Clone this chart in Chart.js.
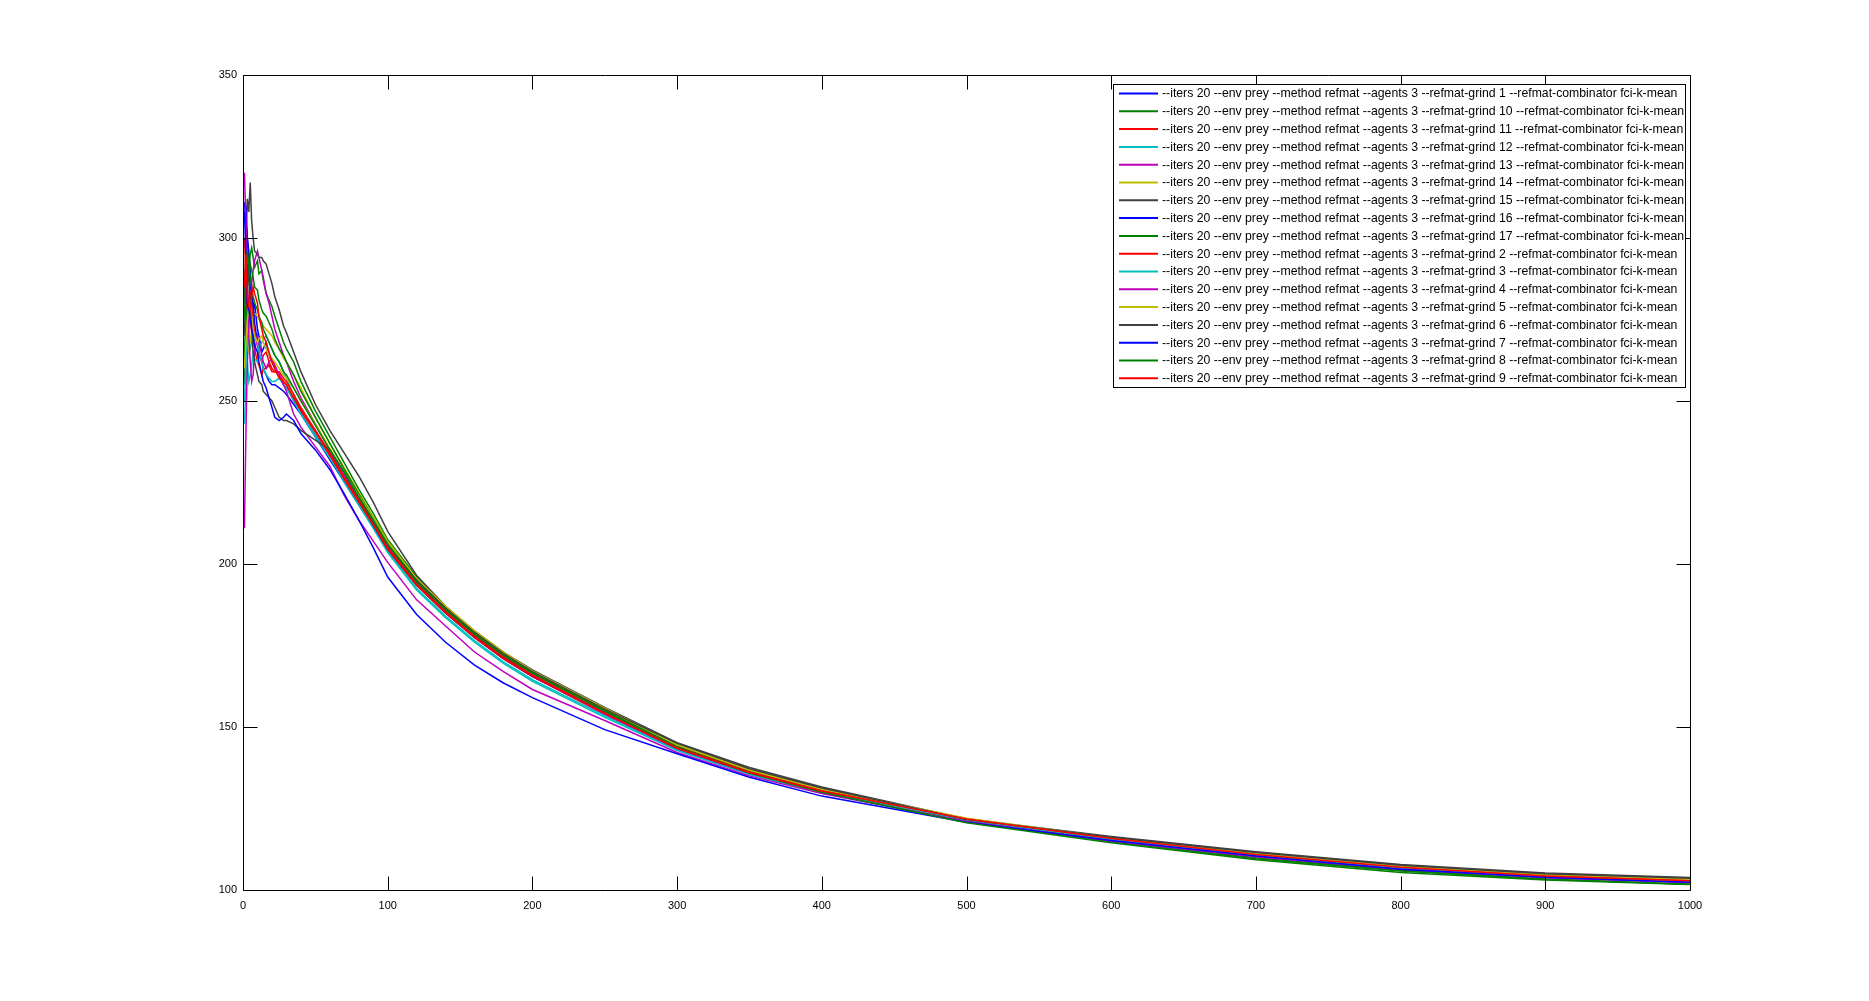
<!DOCTYPE html>
<html>
<head>
<meta charset="utf-8">
<title>refmat grind runs</title>
<script src="https://cdn.jsdelivr.net/npm/chart.js@4.4.1/dist/chart.umd.min.js"></script>
<style>
  html, body { margin: 0; padding: 0; background: #fff; }
  #wrap { width: 1869px; height: 1001px; }
</style>
</head>
<body>
<div id="wrap"><canvas id="chart" width="1869" height="1001"></canvas></div>
<script>
// x positions
const iterations = [1, 2, 3, 4, 5, 6, 7, 8, 10, 11, 13, 14, 16, 18, 20, 22, 25, 28, 30, 35,
    40, 50, 60, 70, 80, 90, 100, 120, 140, 160, 180, 200, 250, 300, 350, 400, 500, 600, 700, 800, 900, 1000];

const grind1  = [311, 305, 300, 296, 290, 283, 278, 280, 272, 270, 265, 266, 268, 264, 262, 260, 258, 255, 254, 251,
    247, 241, 234, 227, 220, 213, 205.5, 194, 185.5, 178, 171.5, 166, 154, 143.5, 136, 130.2, 121.5, 115.3, 110.3, 106.4, 103.9, 102.4];
const grind10 = [262, 280, 292, 290, 295, 297, 294, 291, 293, 289, 290, 287, 283, 281, 279, 276, 272, 268, 266, 262,
    256, 247, 239, 231, 223, 215.5, 207.5, 196, 187, 179, 172.5, 166.5, 155, 144.5, 136.8, 130.8, 121.4, 115, 109.9, 106, 103.4, 101.8];
const grind11 = [290, 280, 285, 279, 275, 271, 270, 266, 262, 261, 258, 260, 260, 261, 259, 259, 258, 256, 255, 250,
    247, 240, 233, 226, 219, 212, 204.5, 193.5, 185, 177.5, 171, 165.5, 154, 143.3, 135.8, 130.3, 121.6, 115.6, 110.7, 106.9, 104.1, 102.7];
const grind12 = [243, 255, 262, 256, 258, 261, 265, 263, 262, 266, 268, 269, 270, 268, 266, 264, 262, 259, 257, 252,
    248, 240, 232, 225, 218, 211, 204, 192.5, 184, 176.5, 170, 164.5, 153.5, 143, 135.6, 130, 121.3, 115.4, 110.5, 106.7, 104, 102.6];
const grind13 = [211, 240, 262, 272, 280, 286, 290, 293, 296, 294, 290, 288, 283, 280, 276, 272, 268, 264, 262, 256,
    251, 243, 235, 227, 220, 213, 205.5, 194, 185.5, 177.5, 171, 165.5, 154, 143.3, 135.7, 130, 121.2, 115.2, 110.3, 106.5, 103.9, 102.5];
const grind14 = [270, 280, 272, 266, 268, 272, 275, 277, 276, 275, 274, 273, 272, 271, 270, 268, 266, 263, 262, 258,
    254, 245, 237, 229.5, 222, 214.5, 207, 195.5, 186.5, 179, 172.5, 167, 155.5, 144.5, 136.5, 130.5, 120.8, 115.2, 110.6, 107, 104.5, 103.2];
const grind15 = [280, 300, 312, 308, 317, 305, 300, 296, 295, 294, 294, 293, 292, 289, 286, 282, 278, 273, 271, 265,
    259, 249, 241, 234, 227, 219, 210, 196.5, 187, 179.5, 173, 167.5, 156, 145.2, 137.6, 131.6, 121.8, 116.4, 111.7, 107.8, 105.2, 103.8];
const grind16 = [305, 310, 300, 292, 285, 283, 280, 274, 268, 265, 262, 260, 258, 256, 255, 255, 254, 253, 252, 249,
    246, 239, 232, 225.5, 218.5, 211.5, 204.5, 193.5, 185, 177.5, 171, 165.5, 154.5, 143.6, 136, 130.4, 121.7, 115.7, 110.6, 106.5, 103.9, 102.4];
const grind17 = [255, 270, 285, 289, 292, 290, 288, 285, 284, 281, 278, 277, 276, 274, 272, 269, 266, 264, 262, 258,
    253, 245, 237, 229, 221.5, 214, 206.5, 195, 186, 178.5, 172, 166.5, 155, 144, 136.3, 130.5, 121, 114.8, 109.6, 105.8, 103.3, 101.8];
const grind2  = [300, 290, 278, 281, 283, 279, 275, 271, 268, 264, 262, 264, 265, 262, 260, 259, 259, 257, 256, 252,
    248, 241, 234, 226.5, 219.5, 212.5, 205, 194, 185.5, 178, 171.5, 166, 154.5, 143.8, 136.2, 130.5, 121.9, 115.8, 110.8, 107.1, 104.4, 102.9];
const grind3  = [250, 262, 270, 268, 266, 268, 270, 269, 268, 265, 262, 260, 258, 257, 256, 256, 257, 255, 254, 250,
    246, 239, 232.5, 225.5, 218.5, 211, 203.5, 192, 183.5, 176, 169.5, 164, 153, 142.8, 135.4, 130, 121.5, 115.6, 110.6, 106.7, 104.1, 102.6];
const grind4  = [320, 305, 285, 270, 262, 256, 258, 265, 270, 268, 264, 262, 260, 262, 263, 261, 258, 255, 253, 246,
    242, 236, 230, 221, 213.5, 207, 200.5, 189, 181, 173, 167, 161.5, 152, 142.2, 135, 129.6, 121, 115, 110.2, 106.4, 103.8, 102.3];
const grind5  = [260, 268, 275, 278, 280, 276, 272, 270, 268, 269, 270, 268, 266, 264, 263, 262, 260, 258, 257, 254,
    250, 243, 235.5, 228, 221, 214, 206.5, 195.5, 187, 179.5, 173, 167.2, 155.8, 144.6, 136.8, 130.9, 122, 116, 111.1, 107.3, 104.7, 103.3];
const grind6  = [270, 285, 292, 287, 280, 272, 265, 262, 258, 256, 255, 253, 252, 251, 250, 248, 245, 244, 244, 243,
    241, 238, 235, 228, 220.5, 213, 206, 195, 186.5, 179, 172.5, 167, 155.5, 145, 137.2, 131.3, 121.6, 116.2, 111.5, 107.6, 105, 103.6];
const grind7  = [308, 295, 280, 278, 275, 272, 270, 267, 265, 262, 258, 256, 254, 251, 248, 245, 244, 245, 246, 244,
    240, 235, 229, 221.5, 213.5, 205, 196, 184.5, 176, 169, 163.5, 159, 149.2, 141.8, 134.6, 128.8, 120.8, 115.2, 110.4, 106.4, 103.9, 102.4];
const grind8  = [275, 290, 296, 292, 288, 285, 282, 280, 278, 276, 274, 272, 270, 268, 266, 264, 262, 259, 258, 254,
    250, 242.5, 235, 228, 220.5, 213.5, 206, 194.5, 186, 178.5, 172, 166.5, 154.8, 143.7, 135.9, 130, 120.6, 114.5, 109.3, 105.4, 103.1, 101.7];
const grind9  = [285, 295, 282, 279, 278, 282, 285, 283, 280, 276, 272, 270, 268, 265, 262, 260, 257, 256, 255, 251,
    247.5, 240.5, 233.5, 226, 219, 212, 204.5, 193.5, 185, 177.5, 171, 165.5, 154.2, 143.5, 136, 130.4, 121.8, 115.8, 110.9, 107, 104.3, 102.8];

// legend order as in the plot
const grindNames = [1, 10, 11, 12, 13, 14, 15, 16, 17, 2, 3, 4, 5, 6, 7, 8, 9];
const grindSeries = [grind1, grind10, grind11, grind12, grind13, grind14, grind15, grind16, grind17,
    grind2, grind3, grind4, grind5, grind6, grind7, grind8, grind9];

const xTicks = [0, 100, 200, 300, 400, 500, 600, 700, 800, 900, 1000];
const yTicks = [100, 150, 200, 250, 300, 350];

const colorCycle = ['#0000ff', '#008000', '#ff0000', '#00bfbf', '#bf00bf', '#bfbf00', '#404040'];
const fontFamily = '"Liberation Sans", Arial, sans-serif';

const datasets = grindSeries.map((vals, i) => ({
    label: '--iters 20 --env prey --method refmat --agents 3 --refmat-grind ' + grindNames[i] + ' --refmat-combinator fci-k-mean',
    data: vals.map((v, j) => ({ x: iterations[j], y: v })),
    borderColor: colorCycle[i % colorCycle.length],
    borderWidth: 1.5,
    pointRadius: 0,
    tension: 0,
    fill: false,
    order: grindSeries.length - i
}));

// box, inward tick marks and the legend, drawn like the old matlab figure
const matlabFrame = {
    id: 'matlabFrame',
    beforeDraw(chart) {
        const ctx = chart.ctx;
        ctx.save();
        ctx.fillStyle = '#fff';
        ctx.fillRect(0, 0, chart.width, chart.height);
        ctx.restore();
    },
    afterDraw(chart) {
        const { ctx, chartArea: a, scales } = chart;
        const L = Math.round(a.left) + 0.5, R = Math.round(a.right) + 0.5;
        const T = Math.round(a.top) + 0.5, B = Math.round(a.bottom) + 0.5;
        const tl = 14;
        ctx.save();
        ctx.strokeStyle = '#000';
        ctx.lineWidth = 1;
        ctx.beginPath();
        ctx.rect(L, T, R - L, B - T);
        xTicks.forEach(v => {
            const px = Math.round(scales.x.getPixelForValue(v)) + 0.5;
            ctx.moveTo(px, B); ctx.lineTo(px, B - tl);
            ctx.moveTo(px, T); ctx.lineTo(px, T + tl);
        });
        yTicks.forEach(v => {
            const py = Math.round(scales.y.getPixelForValue(v)) + 0.5;
            ctx.moveTo(L, py); ctx.lineTo(L + tl, py);
            ctx.moveTo(R, py); ctx.lineTo(R - tl, py);
        });
        ctx.stroke();

        // legend box in the upper right corner
        const bx = 1113.5, by = 84.5, bw = 572, bh = 303;
        const rowGap = 17.8, firstRow = 93.5;
        ctx.fillStyle = '#fff';
        ctx.fillRect(bx, by, bw, bh);
        ctx.strokeRect(bx, by, bw, bh);
        ctx.font = '12.25px ' + fontFamily;
        ctx.textBaseline = 'middle';
        ctx.textAlign = 'left';
        chart.data.datasets.forEach((ds, i) => {
            const ry = firstRow + i * rowGap;
            ctx.strokeStyle = ds.borderColor;
            ctx.lineWidth = 2;
            ctx.beginPath();
            ctx.moveTo(1119, ry); ctx.lineTo(1158, ry);
            ctx.stroke();
            ctx.fillStyle = '#000';
            ctx.fillText(ds.label, 1162, ry + 0.5);
        });
        ctx.restore();
    }
};

new Chart(document.getElementById('chart'), {
    type: 'line',
    data: { datasets: datasets },
    options: {
        responsive: false,
        animation: false,
        parsing: false,
        layout: { padding: { left: 203, right: 179, top: 75, bottom: 81 } },
        plugins: { legend: { display: false }, tooltip: { enabled: false } },
        scales: {
            x: {
                type: 'linear',
                min: 0,
                max: 1000,
                afterBuildTicks: s => { s.ticks = xTicks.map(v => ({ value: v })); },
                afterFit: s => { s.height = 30; },
                grid: { display: false, drawTicks: false },
                border: { display: false },
                ticks: { color: '#000', padding: 9, maxRotation: 0, autoSkip: false,
                    callback: v => String(v),
                    font: { family: fontFamily, size: 11 } }
            },
            y: {
                type: 'linear',
                min: 100,
                max: 350,
                afterBuildTicks: s => { s.ticks = yTicks.map(v => ({ value: v })); },
                afterFit: s => { s.width = 40; },
                grid: { display: false, drawTicks: false },
                border: { display: false },
                ticks: { color: '#000', padding: 6, autoSkip: false,
                    callback: v => String(v),
                    font: { family: fontFamily, size: 11 } }
            }
        }
    },
    plugins: [matlabFrame]
});
</script>
</body>
</html>
